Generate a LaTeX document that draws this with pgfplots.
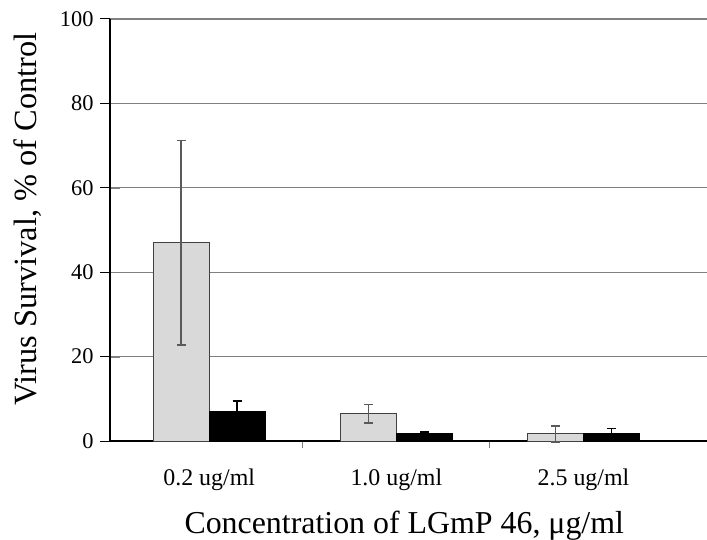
\documentclass[border=0pt]{standalone}
\usepackage{fontspec}
\setmainfont{Liberation Serif}
\usepackage{pgfplots}
\pgfplotsset{compat=1.18}
\usetikzlibrary{calc}

\definecolor{barlight}{RGB}{217,217,217}
\definecolor{bardraw}{RGB}{64,64,64}
\definecolor{gridgray}{RGB}{128,128,128}
\definecolor{errgray}{RGB}{90,90,90}

\begin{document}
\begin{tikzpicture}
\begin{axis}[
    name=ax,
    scale only axis,
    width=597bp,
    height=422bp,
    xmin=-0.53, xmax=2.66,
    ymin=0, ymax=100,
    ybar=0pt,
    bar width=56bp,
    axis lines*=left,
    axis line style={black, line width=1.1bp, -},
    ytick={0,20,...,100},
    ymajorgrids,
    grid style={gridgray, line width=1.2bp},
    xtick align=outside,
    major tick length=10bp,
    minor tick length=7bp,
    xtick={0,1,2},
    xticklabels={0.2 ug/ml, 1.0 ug/ml, 2.5 ug/ml},
    major x tick style={draw=none},
    minor xtick={0.5,1.5},
    minor x tick style={draw=gridgray, line width=1bp},
    xticklabel style={font=\fontsize{24}{27}\selectfont, anchor=base, yshift=-34bp},
    yticklabel style={font=\fontsize{22.5}{26}\selectfont, xshift=-13bp},
    /pgf/number format/assume math mode=true,
    ylabel={Virus Survival, \% of Control},
    ylabel style={font=\fontsize{32.5}{36}\selectfont, at={(rel axis cs:-0.1223,0.526)}, anchor=base},
    xlabel={Concentration of LGmP 46, μg/ml},
    xlabel style={font=\fontsize{32}{36}\selectfont, at={(rel axis cs:0.1189,0)}, anchor=base west, yshift=-92bp},
    clip=false,
]
% light grey series
\addplot[fill=barlight, draw=bardraw, line width=0.9bp,
    error bars/.cd, y dir=both, y explicit,
    error bar style={errgray, line width=1.5bp},
    error mark options={rotate=90, mark size=4.5bp, errgray, line width=1.5bp}]
    coordinates {
    (0, 47.0) +- (0, 24.2)
    (1, 6.5)  +- (0, 2.2)
    (2, 1.7)  +- (0, 1.9)
};
% black series
\addplot[fill=black, draw=black, line width=0.9bp,
    error bars/.cd, y dir=both, y explicit,
    error bar style={black, line width=1.5bp},
    error mark options={rotate=90, mark size=4.5bp, black, line width=1.5bp}]
    coordinates {
    (0, 6.9) +- (0, 2.6)
    (1, 1.7) +- (0, 0.4)
    (2, 1.7) +- (0, 1.3)
};
\end{axis}
% outside tick marks on the y axis
\foreach \f in {0,0.2,0.4,0.6,0.8,1}
    \draw[black, line width=1bp] ($(ax.south west)!\f!(ax.north west)$) -- ++(-10bp,0);
\pgfresetboundingbox
\useasboundingbox ($(ax.south west)+(-110bp,-99bp)$) rectangle ($(ax.north east)+(0bp,19bp)$);
\end{tikzpicture}
\end{document}
